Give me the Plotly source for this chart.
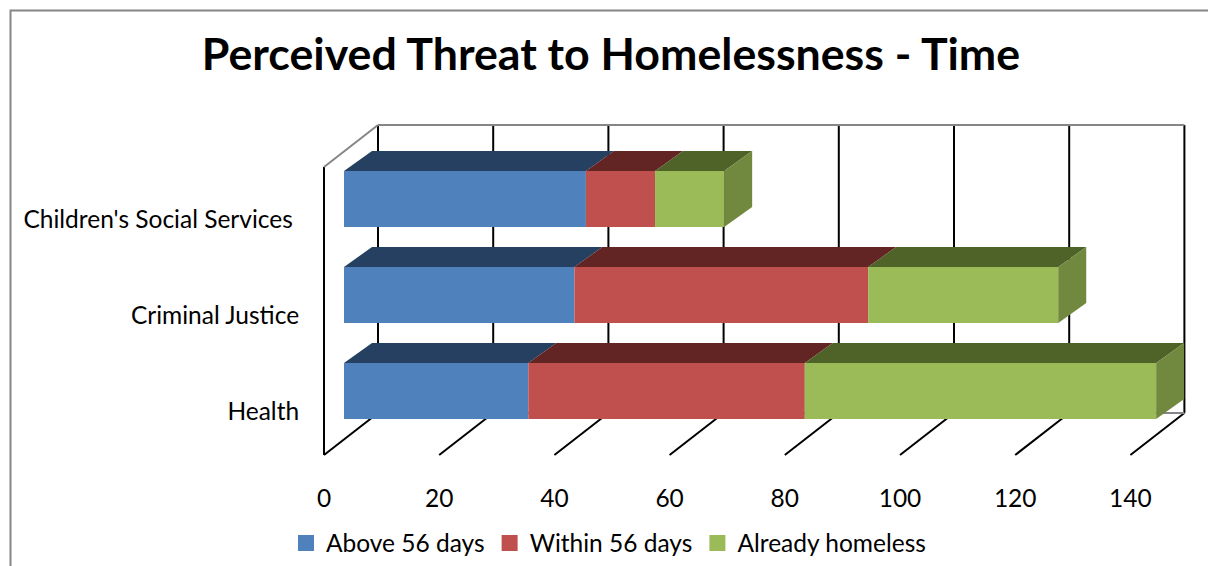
import plotly.graph_objects as go

categories = ["Health", "Criminal Justice", "Children's Social Services"]
tick_labels = ["Health", "Criminal Justice", "Children's Social Services\u00a0"]
series_names = ["Above 56 days", "Within 56 days", "Already homeless"]
above_56 = [32, 40, 42]
within_56 = [48, 51, 12]
already_homeless = [61, 33, 12]
x_ticks = [0, 20, 40, 60, 80, 100, 120, 140]

series_values = [above_56, within_56, already_homeless]
front_colors = ["#4F81BD", "#C0504D", "#9BBB59"]
top_colors = ["#254061", "#632523", "#4F6228"]
side_color = "#71893F"
WALL = "#868686"
FONT = "Lato"
W, H = 1208, 566

# pixel scale of the chart (projection constants for the oblique 3-D look)
PX_X, PX_Y = 5.76, 96.0
X0_PX, ROW0_PX = 324.0, 391.0
L_PX, R_PX, T_PX, B_PX = 318, 1195, 118, 460   # axes box on the page
xpos = lambda px: (px - X0_PX) / PX_X
ypos = lambda px: (ROW0_PX - px) / PX_Y
ddx = lambda px: px / PX_X
ddy = lambda px: px / PX_Y
paper_x = lambda px: px / W
paper_y = lambda px: 1 - px / H

wall_dx, wall_dy = ddx(54), ddy(42)
bar_dx, bar_dy = ddx(28), ddy(20)
inset = ddx(20)
bar_w = ddy(56)
floor_front, floor_back = ypos(455), ypos(455) + wall_dy
wall_top = ypos(125)

fig = go.Figure()
rows = list(range(len(categories)))
base = [inset] * len(rows)
for name, vals, fc, tc in zip(series_names, series_values, front_colors, top_colors):
    fig.add_trace(go.Bar(y=rows, x=vals, base=list(base), orientation="h", width=bar_w,
                         marker=dict(color=fc, line=dict(width=0)), showlegend=False, name=name,
                         hoverinfo="skip"))
    # top faces
    xs, ys = [], []
    for r, b, v in zip(rows, base, vals):
        t = r + bar_w / 2
        xs += [b, b + v, b + v + bar_dx, b + bar_dx, b, None]
        ys += [t, t, t + bar_dy, t + bar_dy, t, None]
    fig.add_trace(go.Scatter(x=xs, y=ys, mode="lines", fill="toself", fillcolor=tc,
                             line=dict(width=0, color=tc), showlegend=False, hoverinfo="skip"))
    base = [b + v for b, v in zip(base, vals)]

# side faces of the last series
xs, ys = [], []
for r, e in zip(rows, base):
    t, b = r + bar_w / 2, r - bar_w / 2
    xs += [e, e + bar_dx, e + bar_dx, e, e, None]
    ys += [t, t + bar_dy, b + bar_dy, b, t, None]
fig.add_trace(go.Scatter(x=xs, y=ys, mode="lines", fill="toself", fillcolor=side_color,
                         line=dict(width=0, color=side_color), showlegend=False, hoverinfo="skip"))

# legend entries
for name, fc in zip(series_names, front_colors):
    fig.add_trace(go.Scatter(x=[None], y=[None], mode="markers", name=name,
                             marker=dict(symbol="square", size=16, color=fc)))

shapes = []
def seg(x0, y0, x1, y1, color="#000000", width=2):
    shapes.append(dict(type="line", xref="x", yref="y", x0=x0, y0=y0, x1=x1, y1=y1,
                       line=dict(color=color, width=width), layer="below"))

for t in x_ticks:
    seg(t, floor_front, t + wall_dx, floor_back)                 # floor diagonals
    seg(t + wall_dx, floor_back, t + wall_dx, wall_top)          # back wall lines
seg(x_ticks[0], floor_front, x_ticks[0], wall_top - wall_dy)     # left wall edge
seg(x_ticks[0], wall_top - wall_dy, x_ticks[0] + wall_dx, wall_top, WALL)
seg(x_ticks[0] + wall_dx, wall_top, x_ticks[-1] + wall_dx, wall_top, WALL)
seg(x_ticks[0] + wall_dx, floor_back, x_ticks[-1] + wall_dx, floor_back, WALL)

# outer chart frame
fx, fy = paper_x(10.5), paper_y(10.5)
shapes.append(dict(type="path", xref="paper", yref="paper",
                   path=f"M {fx} {paper_y(600)} L {fx} {fy} L {paper_x(1240)} {fy}",
                   line=dict(color=WALL, width=2), layer="below"))

fig.update_layout(
    width=W, height=H, autosize=False, paper_bgcolor="white", plot_bgcolor="white",
    margin=dict(l=0, r=0, t=0, b=0, pad=0),
    barmode="overlay", shapes=shapes,
    font=dict(family=FONT, size=24.5, color="#000000"),
    title=dict(text="<b>Perceived Threat to Homelessness - Time</b>",
               font=dict(family=FONT, size=44.7, color="#000000"),
               x=611 / W, xanchor="center", y=1 - 54 / H, yanchor="middle"),
    xaxis=dict(domain=[paper_x(L_PX), paper_x(R_PX)], range=[xpos(L_PX), xpos(R_PX)],
               tickvals=x_ticks, ticks="outside", ticklen=17,
               tickcolor="rgba(0,0,0,0)", showgrid=False, zeroline=False, showline=False,
               tickfont=dict(family=FONT, size=24.5)),
    yaxis=dict(domain=[paper_y(B_PX), paper_y(T_PX)], range=[ypos(B_PX), ypos(T_PX)],
               tickvals=[r - ddy(20) for r in rows], ticktext=tick_labels,
               ticks="outside", ticklen=13, tickcolor="rgba(0,0,0,0)", showgrid=False, zeroline=False,
               showline=False, tickfont=dict(family=FONT, size=24.5)),
    legend=dict(orientation="h", x=paper_x(286), xanchor="left",
                y=paper_y(543), yanchor="middle",
                font=dict(family=FONT, size=24.5), bgcolor="rgba(0,0,0,0)", itemclick=False,
                itemdoubleclick=False, itemwidth=30),
)

fig.write_html("out.html", config=dict(displayModeBar=False),
               post_script="document.body.style.margin='0';")
